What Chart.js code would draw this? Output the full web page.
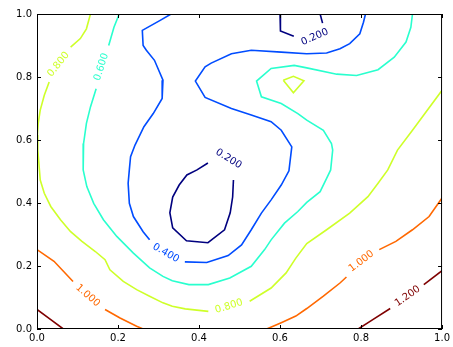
<!DOCTYPE html>
<html>
<head>
<meta charset="utf-8">
<script src="https://cdn.jsdelivr.net/npm/chart.js@4.4.1/dist/chart.umd.min.js"></script>
<style>
  html, body { margin: 0; padding: 0; background: #fff; }
</style>
</head>
<body>
<canvas id="contour_chart" width="453" height="347"></canvas>
<script>
// contour levels and the tick values on both axes
const levels = [0.2, 0.4, 0.6, 0.8, 1.0, 1.2];
const xTicks = [0, 0.2, 0.4, 0.6, 0.8, 1.0];
const yTicks = [0, 0.2, 0.4, 0.6, 0.8, 1.0];

// contour paths, [x, y] in data units, broken where labels sit
const c02TopA = [[0.600, 1.0], [0.601, 0.946], [0.634, 0.929]];
const c02TopB = [[0.705, 0.971], [0.699, 1.0]];
const c02Loop = [[0.422, 0.527], [0.395, 0.505], [0.370, 0.489], [0.351, 0.457], [0.335, 0.419],
  [0.328, 0.369], [0.335, 0.321], [0.369, 0.280], [0.422, 0.274], [0.463, 0.315],
  [0.477, 0.369], [0.483, 0.419], [0.485, 0.473]];

const c04A = [[0.331, 1.0], [0.303, 0.979], [0.260, 0.948], [0.262, 0.900], [0.270, 0.885],
  [0.290, 0.853], [0.311, 0.790], [0.309, 0.732], [0.287, 0.684], [0.264, 0.642],
  [0.242, 0.584], [0.231, 0.547], [0.228, 0.506], [0.225, 0.463], [0.228, 0.399],
  [0.238, 0.357], [0.262, 0.309], [0.278, 0.283]];
const c04B = [[0.365, 0.213], [0.419, 0.211], [0.472, 0.233], [0.505, 0.267], [0.529, 0.315],
  [0.554, 0.368], [0.578, 0.410], [0.603, 0.457], [0.622, 0.502], [0.629, 0.578],
  [0.603, 0.631], [0.578, 0.658], [0.529, 0.679], [0.480, 0.700], [0.415, 0.735],
  [0.391, 0.787], [0.415, 0.832], [0.430, 0.844], [0.480, 0.874], [0.529, 0.885],
  [0.603, 0.879], [0.666, 0.874], [0.715, 0.876], [0.748, 0.890], [0.772, 0.906],
  [0.797, 0.937], [0.806, 0.974], [0.811, 1.0]];

const c06A = [[0.203, 1.0], [0.190, 0.958], [0.177, 0.900]];
const c06B = [[0.146, 0.763], [0.132, 0.705], [0.122, 0.653], [0.115, 0.589], [0.114, 0.505],
  [0.123, 0.452], [0.140, 0.399], [0.164, 0.347], [0.197, 0.294], [0.238, 0.241],
  [0.278, 0.194], [0.311, 0.167], [0.334, 0.153], [0.375, 0.141], [0.423, 0.141],
  [0.476, 0.162], [0.529, 0.199], [0.562, 0.252], [0.578, 0.283], [0.611, 0.336],
  [0.644, 0.373], [0.666, 0.402], [0.699, 0.436], [0.715, 0.478], [0.725, 0.505],
  [0.730, 0.568], [0.727, 0.589], [0.707, 0.631], [0.666, 0.663], [0.644, 0.684],
  [0.603, 0.716], [0.554, 0.737], [0.542, 0.787], [0.578, 0.827], [0.635, 0.837],
  [0.666, 0.829], [0.740, 0.809], [0.789, 0.805], [0.842, 0.823], [0.882, 0.863],
  [0.911, 0.911], [0.923, 0.958], [0.927, 1.0]];

const c08A = [[0.132, 1.0], [0.122, 0.953], [0.107, 0.922], [0.083, 0.895]];
const c08B = [[0.030, 0.784], [0.018, 0.742], [0.008, 0.695], [0.003, 0.653], [0.001, 0.616],
  [0.002, 0.568], [0.008, 0.473], [0.018, 0.431], [0.034, 0.389], [0.058, 0.347],
  [0.083, 0.309], [0.111, 0.278], [0.144, 0.246], [0.168, 0.220], [0.180, 0.188],
  [0.213, 0.151], [0.246, 0.125], [0.278, 0.104], [0.311, 0.083], [0.334, 0.072],
  [0.366, 0.064], [0.423, 0.056]];
const c08C = [[0.525, 0.088], [0.578, 0.130], [0.615, 0.178], [0.639, 0.225], [0.666, 0.271],
  [0.715, 0.315], [0.772, 0.368], [0.817, 0.420], [0.842, 0.463], [0.866, 0.505],
  [0.890, 0.568], [0.927, 0.631], [1.0, 0.758]];
const c08Island = [[0.608, 0.790], [0.633, 0.802], [0.659, 0.788], [0.633, 0.750], [0.608, 0.790]];

const c10A = [[0.0, 0.252], [0.042, 0.215], [0.089, 0.151]];
const c10B = [[0.168, 0.062], [0.205, 0.035], [0.246, 0.009], [0.262, 0.0]];
const c10C = [[0.567, 0.0], [0.603, 0.020], [0.639, 0.041], [0.666, 0.065], [0.707, 0.104],
  [0.748, 0.146], [0.764, 0.165]];
const c10D = [[0.845, 0.252], [0.886, 0.278], [0.927, 0.315], [0.968, 0.357], [1.0, 0.416]];

const c12A = [[0.0, 0.062], [0.034, 0.030], [0.065, 0.0]];
const c12B = [[0.793, 0.0], [0.829, 0.030], [0.872, 0.065]];
const c12C = [[0.955, 0.141], [1.0, 0.185]];

// inline labels: level, anchor x, anchor y, angle of the text
const clabels = [
  [0.8, 0.053, 0.840, -51],
  [0.6, 0.159, 0.832, -72],
  [0.4, 0.318, 0.241, 30],
  [0.2, 0.473, 0.540, 32],
  [0.2, 0.686, 0.927, -24],
  [0.8, 0.474, 0.072, -17],
  [1.0, 0.125, 0.106, 41],
  [1.0, 0.801, 0.215, -37],
  [1.2, 0.915, 0.104, -35],
];

const segments = [
  [0.2, c02TopA], [0.2, c02TopB], [0.2, c02Loop],
  [0.4, c04A], [0.4, c04B],
  [0.6, c06A], [0.6, c06B],
  [0.8, c08A], [0.8, c08B], [0.8, c08C], [0.8, c08Island],
  [1.0, c10A], [1.0, c10B], [1.0, c10C], [1.0, c10D],
  [1.2, c12A], [1.2, c12B], [1.2, c12C],
];

// jet colours for each level
const levelColors = ["#00007f", "#004cff", "#29ffce", "#ceff29", "#ff6800", "#7f0000"];
const colorFor = (lv) => levelColors[levels.indexOf(lv)];

const datasets = segments.map(([lv, pts]) => ({
  data: pts.map(([x, y]) => ({ x, y })),
  showLine: true,
  borderColor: colorFor(lv),
  borderWidth: 1.6,
  pointRadius: 0,
  fill: false,
  tension: 0,
}));

const frameAndTicks = {
  id: "frameAndTicks",
  afterDraw(chart) {
    const { ctx, chartArea: a, scales } = chart;
    ctx.save();
    ctx.strokeStyle = "#000";
    ctx.lineWidth = 1;
    ctx.beginPath();
    xTicks.forEach((v) => {
      const px = Math.round(scales.x.getPixelForValue(v)) + 0.5;
      ctx.moveTo(px, a.bottom); ctx.lineTo(px, a.bottom - 4);
      ctx.moveTo(px, a.top); ctx.lineTo(px, a.top + 4);
    });
    yTicks.forEach((v) => {
      const py = Math.round(scales.y.getPixelForValue(v)) + 0.5;
      ctx.moveTo(a.left, py); ctx.lineTo(a.left + 4, py);
      ctx.moveTo(a.right, py); ctx.lineTo(a.right - 4, py);
    });
    ctx.stroke();
    ctx.strokeRect(a.left + 0.5, a.top + 0.5, a.right - a.left - 1, a.bottom - a.top - 1);
    ctx.restore();
  },
};

const contourLabels = {
  id: "contourLabels",
  afterDatasetsDraw(chart) {
    const { ctx, scales } = chart;
    ctx.save();
    ctx.font = "10px 'DejaVu Sans'";
    ctx.textAlign = "center";
    ctx.textBaseline = "middle";
    clabels.forEach(([lv, x, y, ang]) => {
      ctx.save();
      ctx.translate(scales.x.getPixelForValue(x), scales.y.getPixelForValue(y));
      ctx.rotate((ang * Math.PI) / 180);
      ctx.fillStyle = colorFor(lv);
      ctx.fillText(lv.toFixed(3), 0, 0);
      ctx.restore();
    });
    ctx.restore();
  },
};

const tickFont = { family: "DejaVu Sans", size: 10 };

const contour_chart = new Chart(document.getElementById("contour_chart"), {
  type: "scatter",
  data: { datasets },
  options: {
    responsive: false,
    animation: false,
    devicePixelRatio: 1,
    layout: { padding: { top: 14, right: 8, left: 0, bottom: 0 } },
    plugins: { legend: { display: false }, tooltip: { enabled: false } },
    scales: {
      x: {
        type: "linear",
        min: 0,
        max: 1,
        afterBuildTicks: (s) => { s.ticks = xTicks.map((v) => ({ value: v })); },
        ticks: { callback: (v) => Number(v).toFixed(1), font: tickFont, color: "#000", padding: 3, maxRotation: 0 },
        grid: { display: false, drawTicks: false },
        border: { display: false },
        afterFit: (s) => { s.height = 18; },
      },
      y: {
        type: "linear",
        min: 0,
        max: 1,
        afterBuildTicks: (s) => { s.ticks = yTicks.map((v) => ({ value: v })); },
        ticks: { callback: (v) => Number(v).toFixed(1), font: tickFont, color: "#000", padding: 5 },
        grid: { display: false, drawTicks: false },
        border: { display: false },
        afterFit: (s) => { s.width = 37; },
      },
    },
  },
  plugins: [contourLabels, frameAndTicks],
});
</script>
</body>
</html>
